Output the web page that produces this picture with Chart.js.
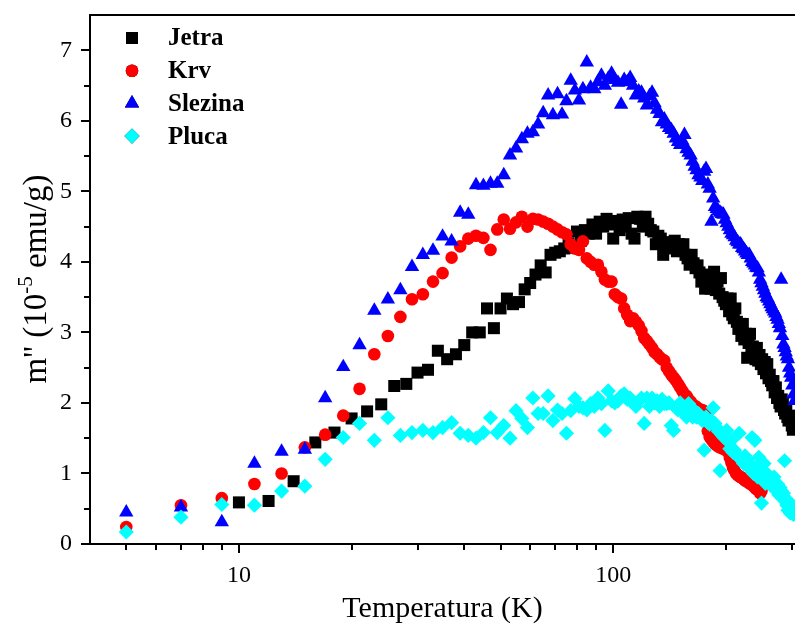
<!DOCTYPE html>
<html>
<head>
<meta charset="utf-8">
<script src="https://cdn.jsdelivr.net/npm/chart.js@4/dist/chart.umd.min.js"></script>
<style>
  html, body { margin: 0; padding: 0; background: #fff; }
  #wrap { width: 795px; height: 624px; }
</style>
</head>
<body>
<div id="wrap"><canvas id="chart" width="795" height="624"></canvas></div>
<script>
// --- DATA ---
// temperatures for Krv / Slezina / Pluca (odd K)
const tempOdd = [
  5, 7, 9, 11, 13, 15, 17, 19, 21, 23,
  25, 27, 29, 31, 33, 35, 37, 39, 41, 43,
  45, 47, 49, 51, 53, 55, 57, 59, 61, 63,
  65, 67, 69, 71, 73, 75, 77, 79, 81, 83,
  85, 87, 89, 91, 93, 95, 97, 99, 101, 103,
  105, 107, 109, 111, 113, 115, 117, 119, 121, 123,
  125, 127, 129, 131, 133, 135, 137, 139, 141, 143,
  145, 147, 149, 151, 153, 155, 157, 159, 161, 163,
  165, 167, 169, 171, 173, 175, 177, 179, 181, 183,
  185, 187, 189, 191, 193, 195, 197, 199, 201, 203,
  205, 207, 209, 211, 213, 215, 217, 219, 221, 223,
  225, 227, 229, 231, 233, 235, 237, 239, 241, 243,
  245, 247, 249, 251, 253, 255, 257, 259, 261, 263,
  265, 267, 269, 271, 273, 275, 277, 279, 281, 283,
  285, 287, 289, 291, 293, 295, 297, 299, 301, 303,
  305
];
// temperatures for Jetra (even K)
const tempEven = [
  10, 12, 14, 16, 18, 20, 22, 24, 26, 28,
  30, 32, 34, 36, 38, 40, 42, 44, 46, 48,
  50, 52, 54, 56, 58, 60, 62, 64, 66, 68,
  70, 72, 74, 76, 78, 80, 82, 84, 86, 88,
  90, 92, 94, 96, 98, 100, 102, 104, 106, 108,
  110, 112, 114, 116, 118, 120, 122, 124, 126, 128,
  130, 132, 134, 136, 138, 140, 142, 144, 146, 148,
  150, 152, 154, 156, 158, 160, 162, 164, 166, 168,
  170, 172, 174, 176, 178, 180, 182, 184, 186, 188,
  190, 192, 194, 196, 198, 200, 202, 204, 206, 208,
  210, 212, 214, 216, 218, 220, 222, 224, 226, 228,
  230, 232, 234, 236, 238, 240, 242, 244, 246, 248,
  250, 252, 254, 256, 258, 260, 262, 264, 266, 268,
  270, 272, 274, 276, 278, 280, 282, 284, 286, 288,
  290, 292, 294, 296, 298, 300, 302, 304
];

const jetra = [
  0.59, 0.61, 0.89, 1.44, 1.58, 1.78, 1.88, 1.98, 2.24, 2.27,
  2.43, 2.47, 2.74, 2.62, 2.69, 2.82, 3.00, 3.00, 3.34, 3.06,
  3.34, 3.48, 3.40, 3.43, 3.61, 3.70, 3.82, 3.95, 3.85, 4.10,
  4.13, 4.15, 4.19, 4.26, 4.20, 4.43, 4.30, 4.45, 4.40, 4.53,
  4.40, 4.57, 4.50, 4.61, 4.53, 4.33, 4.58, 4.45, 4.60, 4.50,
  4.62, 4.40, 4.33, 4.64, 4.61, 4.50, 4.64, 4.54, 4.45, 4.43,
  4.25, 4.37, 4.33, 4.10, 4.19, 4.28, 4.22, 4.25, 4.30, 4.15,
  4.25, 4.19, 4.25, 4.10, 4.05, 3.96, 4.10, 3.98, 3.91, 3.95,
  3.85, 3.72, 3.80, 3.62, 3.72, 3.82, 3.62, 3.66, 3.86, 3.60,
  3.72, 3.55, 3.77, 3.50, 3.45, 3.40, 3.48, 3.30, 3.48, 3.25,
  3.20, 3.34, 3.15, 3.05, 3.12, 2.95, 3.12, 2.90, 2.98, 2.64,
  2.85, 2.98, 2.75, 2.80, 2.70, 2.62, 2.78, 2.60, 2.68, 2.55,
  2.62, 2.48, 2.58, 2.42, 2.55, 2.35, 2.40, 2.31, 2.25, 2.31,
  2.15, 2.22, 2.07, 2.10, 2.00, 1.95, 2.05, 1.99, 1.90, 1.85,
  1.92, 1.80, 1.75, 1.82, 1.79, 1.68, 1.62, 1.70
];

const krv = [
  0.24, 0.55, 0.65, 0.85, 1.00, 1.37, 1.55, 1.82, 2.20, 2.69,
  2.95, 3.22, 3.47, 3.54, 3.72, 3.84, 4.06, 4.22, 4.33, 4.37,
  4.34, 4.17, 4.46, 4.60, 4.47, 4.56, 4.64, 4.50, 4.61, 4.60,
  4.57, 4.54, 4.50, 4.46, 4.42, 4.39, 4.25, 4.19, 4.17, 4.29,
  4.05, 4.00, 3.96, 3.96, 3.86, 3.75, 3.72, 3.72, 3.54, 3.50,
  3.48, 3.34, 3.25, 3.16, 3.20, 3.15, 3.10, 3.02, 2.92, 2.88,
  2.83, 2.78, 2.72, 2.69, 2.65, 2.62, 2.60, 2.50, 2.45, 2.40,
  2.36, 2.32, 2.27, 2.22, 2.17, 2.12, 2.10, 2.05, 2.02, 1.98,
  1.96, 1.94, 1.92, 1.90, 1.90, 1.88, 1.86, 1.60, 1.52, 1.48,
  1.45, 1.42, 1.40, 1.38, 1.37, 1.36, 1.35, 1.34, 1.33, 1.30,
  1.22, 1.15, 1.08, 1.04, 1.00, 0.98, 0.96, 0.95, 0.94, 0.92,
  0.90, 0.92, 0.88, 0.86, 0.90, 0.84, 0.82, 0.80, 0.78, 0.80,
  0.76, 0.72, 0.75
];

const slezina = [
  0.45, 0.52, 0.31, 1.14, 1.31, 1.34, 2.07, 2.51, 2.82, 3.31,
  3.47, 3.60, 3.93, 4.10, 4.16, 4.36, 4.29, 4.70, 4.67, 5.09,
  5.08, 5.11, 5.11, 5.23, 5.51, 5.61, 5.74, 5.82, 5.84, 5.95,
  6.11, 6.36, 6.08, 6.38, 6.09, 6.28, 6.57, 6.43, 6.29, 6.45,
  6.83, 6.47, 6.45, 6.55, 6.64, 6.50, 6.60, 6.67, 6.58, 6.54,
  6.23, 6.58, 6.55, 6.61, 6.50, 6.36, 6.42, 6.40, 6.32, 6.22,
  6.35, 6.40, 6.25, 6.16, 6.10, 5.98, 6.02, 5.95, 5.90, 5.87,
  5.82, 5.75, 5.70, 5.66, 5.72, 5.80, 5.60, 5.55, 5.51, 5.42,
  5.35, 5.30, 5.23, 5.20, 5.15, 5.28, 5.32, 5.10, 5.04, 4.57,
  4.90, 4.78, 4.75, 4.72, 4.70, 4.68, 4.67, 4.60, 4.55, 4.50,
  4.45, 4.40, 4.38, 4.35, 4.30, 4.28, 4.25, 4.25, 4.20, 4.18,
  4.15, 4.12, 4.10, 4.10, 4.05, 4.00, 3.98, 3.95, 3.92, 3.91,
  3.85, 3.75, 3.70, 3.65, 3.60, 3.55, 3.50, 3.48, 3.44, 3.40,
  3.36, 3.33, 3.30, 3.27, 3.22, 3.18, 3.12, 3.06, 3.75, 2.95,
  2.83, 2.78, 2.72, 2.66, 2.62, 2.50, 2.42, 2.36, 2.25, 2.12,
  2.03
];

const pluca = [
  0.17, 0.38, 0.56, 0.55, 0.75, 0.82, 1.20, 1.51, 1.71, 1.47,
  1.79, 1.54, 1.58, 1.61, 1.58, 1.65, 1.72, 1.57, 1.54, 1.50,
  1.58, 1.79, 1.58, 1.68, 1.50, 1.89, 1.78, 1.65, 2.07, 1.85,
  1.85, 2.10, 1.75, 1.90, 1.85, 1.57, 1.89, 2.06, 1.95, 1.93,
  1.90, 1.99, 1.95, 2.07, 1.99, 1.61, 2.17, 2.03, 2.00, 2.03,
  2.10, 2.13, 2.05, 2.07, 2.00, 1.95, 2.02, 2.07, 1.71, 2.07,
  1.95, 2.07, 2.00, 2.03, 1.95, 2.05, 1.99, 1.99, 2.00, 1.68,
  1.61, 1.93, 1.90, 2.00, 1.89, 1.85, 1.80, 1.99, 1.85, 1.80,
  1.89, 1.80, 1.85, 1.78, 1.75, 1.33, 1.80, 1.72, 1.70, 1.75,
  1.93, 1.71, 1.65, 1.60, 1.04, 1.55, 1.52, 1.50, 1.61, 1.45,
  1.35, 1.47, 1.30, 1.33, 1.28, 1.25, 1.57, 1.20, 1.18, 1.14,
  1.25, 1.20, 1.10, 1.15, 1.05, 1.51, 1.00, 1.47, 1.08, 0.95,
  1.23, 0.98, 0.58, 0.92, 1.14, 0.86, 1.00, 0.90, 0.88, 0.95,
  0.82, 0.85, 0.95, 0.78, 0.76, 0.85, 0.70, 0.80, 0.76, 0.65,
  0.72, 1.18, 0.60, 0.55, 0.48, 0.60, 0.44, 0.45, 0.50, 0.42,
  0.48
];

const xTicks = [5, 6, 7, 8, 9, 10, 20, 30, 40, 50, 60, 70, 80, 90, 100, 200, 300];
const xLabelled = [10, 100];
const yTicks = [0, 0.5, 1, 1.5, 2, 2.5, 3, 3.5, 4, 4.5, 5, 5.5, 6, 6.5, 7];

const FONT = "'Liberation Serif', 'Times New Roman', serif";

function pts(temps, vals) {
    return vals.map((v, i) => ({ x: temps[i], y: v }));
}

// frame, ticks, legend, y title
const decorPlugin = {
    id: 'decor',
    afterDraw(chart) {
        const ctx = chart.ctx;
        const area = chart.chartArea;
        const xs = chart.scales.x;
        const ys = chart.scales.y;
        ctx.save();
        ctx.strokeStyle = '#000';
        ctx.lineWidth = 2;
        // top frame line
        ctx.beginPath();
        ctx.moveTo(area.left - 1, area.top);
        ctx.lineTo(area.right, area.top);
        ctx.stroke();
        // x ticks (outward)
        xTicks.forEach(t => {
            let px = Math.round(xs.getPixelForValue(t));
            let len = xLabelled.includes(t) ? 9 : 6;
            ctx.beginPath();
            ctx.moveTo(px, area.bottom);
            ctx.lineTo(px, area.bottom + len);
            ctx.stroke();
        });
        // y ticks (outward)
        yTicks.forEach(v => {
            let py = Math.round(ys.getPixelForValue(v));
            let len = Number.isInteger(v) ? 9 : 6;
            ctx.beginPath();
            ctx.moveTo(area.left, py);
            ctx.lineTo(area.left - len, py);
            ctx.stroke();
        });

        // y axis title with superscript
        ctx.translate(35, 279);
        ctx.rotate(-Math.PI / 2);
        ctx.fillStyle = '#000';
        ctx.textBaseline = 'alphabetic';
        const big = '33px ' + FONT, small = '21px ' + FONT;
        const p1 = "m'' (10", p2 = '-5', p3 = ' emu/g)';
        ctx.font = big; const w1 = ctx.measureText(p1).width, w3 = ctx.measureText(p3).width;
        ctx.font = small; const w2 = ctx.measureText(p2).width;
        let x0 = -(w1 + w2 + w3) / 2;
        ctx.font = big; ctx.fillText(p1, x0, 11);
        ctx.font = small; ctx.fillText(p2, x0 + w1, -3);
        ctx.font = big; ctx.fillText(p3, x0 + w1 + w2, 11);
        ctx.restore();

        // legend inside plot
        ctx.save();
        chart.data.datasets.forEach((ds, i) => {
            const y = 38 + i * 32.7;
            Chart.helpers.drawPoint(ctx, {
                pointStyle: ds.pointStyle, radius: ds.pointRadius, rotation: 0, borderWidth: 0
            }, 132, y);
            ctx.fillStyle = ds.backgroundColor;
            ctx.fill();
            ctx.fillStyle = '#000';
            ctx.font = 'bold 25px ' + FONT;
            ctx.textBaseline = 'middle';
            ctx.textAlign = 'left';
            ctx.fillText(ds.label, 168, y + 1);
        });
        ctx.restore();
    }
};

const chart = new Chart(document.getElementById('chart').getContext('2d'), {
    type: 'scatter',
    data: {
        datasets: [
            { label: 'Jetra', data: pts(tempEven, jetra), pointStyle: 'rect', pointRadius: 8.5,
              backgroundColor: '#000000', borderWidth: 0, order: 4 },
            { label: 'Krv', data: pts(tempOdd, krv), pointStyle: 'circle', pointRadius: 6.3,
              backgroundColor: '#ff0000', borderWidth: 0, order: 3 },
            { label: 'Slezina', data: pts(tempOdd, slezina), pointStyle: 'triangle', pointRadius: 8.3,
              backgroundColor: '#0000ff', borderWidth: 0, order: 2 },
            { label: 'Pluca', data: pts(tempOdd, pluca), pointStyle: 'rectRot', pointRadius: 7.6,
              backgroundColor: '#00ffff', borderWidth: 0, order: 1 }
        ]
    },
    options: {
        responsive: false,
        animation: false,
        events: [],
        layout: { autoPadding: false, padding: { top: 15, right: 0, bottom: 0, left: 0 } },
        plugins: { legend: { display: false }, tooltip: { enabled: false } },
        scales: {
            x: {
                type: 'logarithmic',
                min: 4, max: 306,
                afterFit: s => { s.height = 80; s.paddingLeft = 0; s.paddingRight = 0; },
                afterBuildTicks: s => { s.ticks = xTicks.map(v => ({ value: v })); },
                grid: { display: false, drawTicks: false },
                border: { display: true, color: '#000', width: 2 },
                ticks: {
                    autoSkip: false, maxRotation: 0, padding: 17, color: '#000',
                    font: { family: FONT, size: 24 },
                    callback: v => xLabelled.includes(v) ? String(v) : ''
                },
                title: {
                    display: true, text: 'Temperatura (K)', color: '#000',
                    font: { family: FONT, size: 30, lineHeight: 1 },
                    padding: { top: 0, bottom: 0 }
                }
            },
            y: {
                min: 0, max: 7.5,
                afterFit: s => { s.width = 90; s.paddingTop = 0; s.paddingBottom = 0; },
                afterBuildTicks: s => { s.ticks = yTicks.map(v => ({ value: v })); },
                grid: { display: false, drawTicks: false },
                border: { display: true, color: '#000', width: 2 },
                ticks: {
                    padding: 18, color: '#000',
                    font: { family: FONT, size: 24 },
                    callback: v => Number.isInteger(v) ? String(v) : ''
                }
            }
        }
    },
    plugins: [decorPlugin]
});
</script>
</body>
</html>
